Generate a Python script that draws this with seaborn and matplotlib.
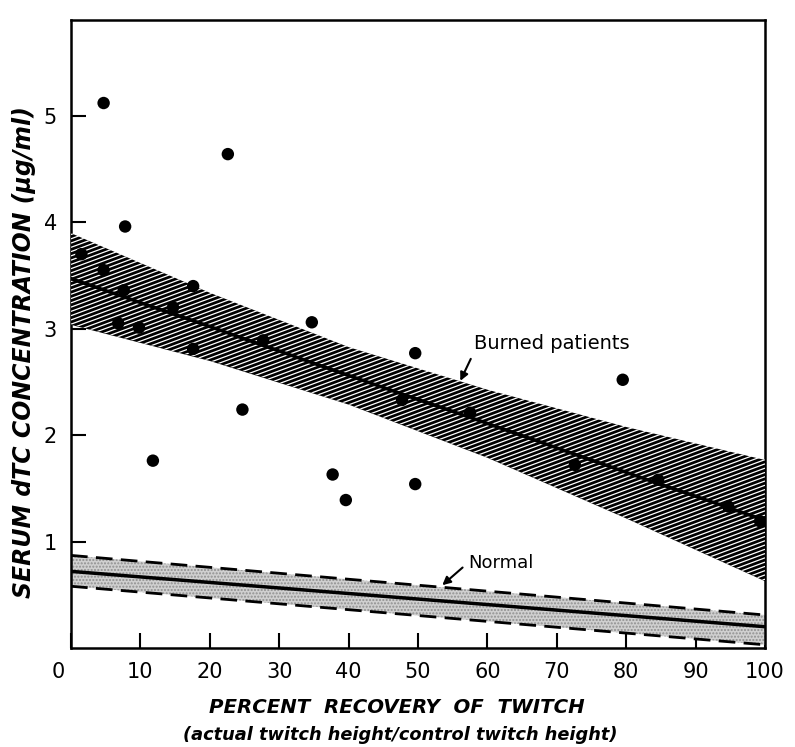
import numpy as np
import pandas as pd
import seaborn as sns
import matplotlib.pyplot as plt
from matplotlib.collections import LineCollection
from matplotlib.transforms import ScaledTranslation

# measured points, burned patients
recovery = [1.5, 4.7, 4.7, 7.8, 7.6, 6.8, 9.8, 17.6, 14.7, 17.6, 22.6, 34.7, 27.7,
            49.6, 24.7, 47.7, 37.7, 39.6, 49.6, 11.8, 79.5, 57.5, 72.6, 84.6, 94.7, 99.3]
serum = [3.70, 5.12, 3.55, 3.96, 3.36, 3.05, 3.01, 3.40, 3.20, 2.81, 4.64, 3.06, 2.89,
         2.77, 2.24, 2.33, 1.63, 1.39, 1.54, 1.76, 2.52, 2.21, 1.72, 1.58, 1.33, 1.19]

# regression line + band
band_x = [0, 20, 40, 60, 80, 100]
burned_fit = [3.47, 3.02, 2.56, 2.11, 1.65, 1.20]
burned_hi = [3.90, 3.34, 2.83, 2.43, 2.08, 1.77]
burned_lo = [3.04, 2.70, 2.29, 1.79, 1.22, 0.63]

normal_x = [0, 100]
normal_fit = [0.72, 0.20]
normal_hi = [0.87, 0.31]
normal_lo = [0.58, 0.03]

sns.set_style('ticks')
plt.rcParams['font.family'] = ['DejaVu Sans']
plt.rcParams['text.color'] = 'black'
plt.rcParams['axes.labelcolor'] = 'black'
plt.rcParams['xtick.color'] = 'black'
plt.rcParams['ytick.color'] = 'black'
plt.rcParams['axes.edgecolor'] = 'black'

fig = plt.figure(figsize=(7.95, 7.47), dpi=100)
ax = fig.add_axes([71/795, 1 - 648/747, 694/795, 628/747])

# burned patients band: black fill with shallow white hatch lines
band = ax.fill_between(band_x, burned_lo, burned_hi, color='black', lw=0, zorder=2)
offs = np.arange(-0.45, 1.0, 0.0068)
segs = [[(0, c), (1, c + 0.41)] for c in offs]
hatch = LineCollection(segs, colors='white', linewidths=0.9, transform=ax.transAxes, zorder=3)
hatch.set_clip_path(band.get_paths()[0], ax.transData)
ax.add_collection(hatch)

fit_df = pd.DataFrame({'x': band_x, 'y': burned_fit})
sns.lineplot(data=fit_df, x='x', y='y', color='black', lw=2.5, ax=ax, zorder=4)

# normal band
ax.fill_between(normal_x, normal_lo, normal_hi, facecolor='#d0d0d0', edgecolor='#909090',
                hatch='.....', lw=0, zorder=1)
norm_df = pd.DataFrame({'x': normal_x, 'fit': normal_fit, 'hi': normal_hi, 'lo': normal_lo})
sns.lineplot(data=norm_df, x='x', y='fit', color='black', lw=2.5, ax=ax, zorder=4)
sns.lineplot(data=norm_df, x='x', y='hi', color='black', lw=2, ax=ax, zorder=4)
ax.lines[-1].set_dashes([6, 3])
sns.lineplot(data=norm_df, x='x', y='lo', color='black', lw=2, ax=ax, zorder=4)
ax.lines[-1].set_dashes([6, 3])

pts = pd.DataFrame({'recovery': recovery, 'serum': serum})
sns.scatterplot(data=pts, x='recovery', y='serum', color='black', s=80, edgecolor='none',
                ax=ax, zorder=5)

ax.annotate('Burned patients', xy=(56.1, 2.51), xytext=(58.0, 2.86), fontsize=14,
            ha='left', va='center',
            arrowprops=dict(arrowstyle='-|>', color='black', lw=1.5, mutation_scale=12,
                            relpos=(0, 0), shrinkA=2, shrinkB=0))
ax.annotate('Normal', xy=(53.5, 0.59), xytext=(57.2, 0.80), fontsize=13,
            ha='left', va='center',
            arrowprops=dict(arrowstyle='-|>', color='black', lw=1.5, mutation_scale=12,
                            relpos=(0, 0.5), shrinkA=2, shrinkB=0))

ax.set_xlim(0, 100)
ax.set_ylim(0, 5.9)
ax.set_xticks(range(0, 101, 10))
ax.set_yticks([1, 2, 3, 4, 5])
ax.tick_params(direction='in', length=11, width=1.5, labelsize=15, pad=10)
for sp in ax.spines.values():
    sp.set_linewidth(1.8)
ax.get_xticklabels()[0].set_transform(
    ax.get_xticklabels()[0].get_transform() + ScaledTranslation(-0.13, 0, fig.dpi_scale_trans))

ax.set_xlabel('')
ax.text(0.469, -0.1035, 'PERCENT  RECOVERY  OF  TWITCH', transform=ax.transAxes,
        fontsize=14.2, fontweight='bold', style='italic', ha='center', va='baseline')
ax.text(0.474, -0.1465, '(actual twitch height/control twitch height)', transform=ax.transAxes,
        fontsize=12.8, fontweight='bold', style='italic', ha='center', va='baseline')
ax.set_ylabel('SERUM dTC CONCENTRATION (μg/ml)', fontsize=17, fontweight='bold',
              style='italic')
ax.yaxis.set_label_coords(-0.050, 0.471)

plt.savefig('out.png', dpi=100)
